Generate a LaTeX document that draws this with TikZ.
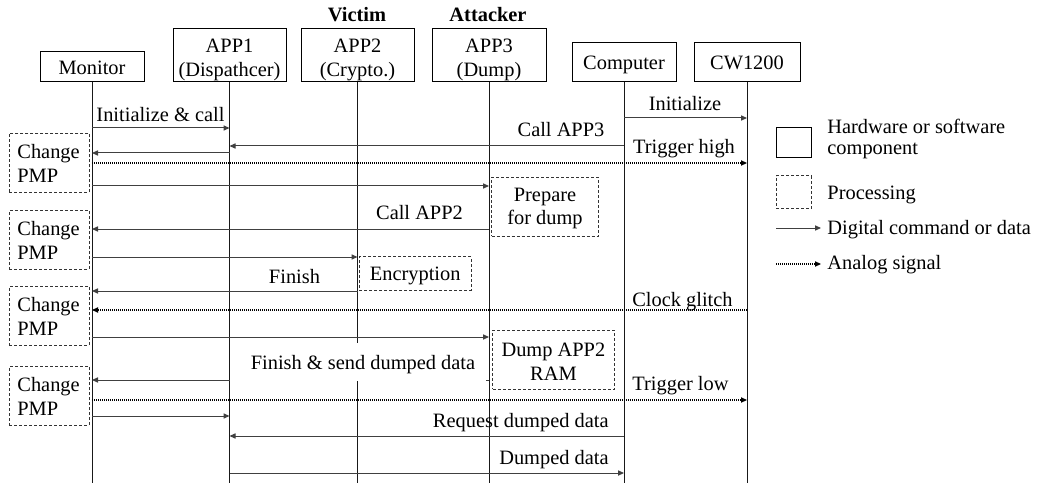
\documentclass[tikz,border=0pt]{standalone}
\usepackage{fontspec}
\setmainfont{Liberation Serif}
\usetikzlibrary{arrows.meta}
% stacked lines; the box baseline is the baseline of the last line
\newcommand{\stk}[2][c]{\begin{tabular}[b]{@{}#1@{}}#2\end{tabular}}
\begin{document}
\begin{tikzpicture}[x=0.5pt,y=-0.5pt,
  font=\fontsize{10.2}{12}\selectfont,
  comp/.style={draw=black, line width=0.5pt, inner sep=0pt},
  proc/.style={draw=black!80, line width=0.5pt, dash pattern=on 1.5pt off 1pt, inner sep=0pt},
  txt/.style={inner sep=0pt, anchor=base},
  life/.style={draw=black!90, line width=0.5pt},
  msg/.style={draw=black!75, line width=0.5pt, -{Triangle[length=3pt,width=2.6pt]}},
  sig/.style={msg, draw=black, line width=0.55pt, dash pattern=on 0.5pt off 0.5pt},
]
\useasboundingbox (0,0) rectangle (1037,486);

% ---- participants ----
\node[comp, minimum width=52pt, minimum height=15pt] (mon) at (92,67) {};
\node[txt] (mon-t) at (92,75) {Monitor};
\node[comp, minimum width=56.5pt, minimum height=26.5pt] (app1) at (229.5,55.5) {};
\node[txt] (app1-t) at (229.5,77) {\stk{APP1\\(Dispathcer)}};
\node[comp, minimum width=56.5pt, minimum height=26.5pt] (app2) at (357.5,55.5) {};
\node[txt] (app2-t) at (357.5,77) {\stk{APP2\\(Crypto.)}};
\node[comp, minimum width=57pt, minimum height=26.5pt] (app3) at (489,55.5) {};
\node[txt] (app3-t) at (489,77) {\stk{APP3\\(Dump)}};
\node[comp, minimum width=52pt, minimum height=19.5pt] (comp) at (624,62.5) {};
\node[txt] (comp-t) at (624,69.3) {Computer};
\node[comp, minimum width=53pt, minimum height=19.5pt] (cw) at (747,62.5) {};
\node[txt] (cw-t) at (747,69.3) {CW1200};

\node[txt, font=\fontsize{10.2}{12}\selectfont\bfseries] (victim) at (357,21.5) {Victim};
\node[txt, font=\fontsize{10.2}{12}\selectfont\bfseries] (attacker) at (488,21.5) {Attacker};

% ---- lifelines ----
\coordinate (bottom) at (0,483);
\foreach \n in {mon,app1,app2,app3,comp,cw}
  \draw[life] (\n.south) -- (\n.south |- bottom);

% ---- processing steps ----
\node[proc, minimum width=40pt, minimum height=29.5pt] (pmp1) at (49.3,162.8) {};
\node[txt, anchor=base west] (pmp1-t) at (17,182.7) {\stk[l]{Change\\PMP}};
\node[proc, minimum width=40pt, minimum height=29.15pt] (pmp2) at (49.3,239.9) {};
\node[txt, anchor=base west] (pmp2-t) at (17,259) {\stk[l]{Change\\PMP}};
\node[proc, minimum width=40pt, minimum height=29.15pt] (pmp3) at (49.3,315.9) {};
\node[txt, anchor=base west] (pmp3-t) at (17,335) {\stk[l]{Change\\PMP}};
\node[proc, minimum width=40pt, minimum height=29.15pt] (pmp4) at (49.3,395.9) {};
\node[txt, anchor=base west] (pmp4-t) at (17,415) {\stk[l]{Change\\PMP}};

\node[proc, minimum width=53.3pt, minimum height=29.35pt] (prep) at (545,206.7) {};
\node[txt] (prep-t) at (545,225) {\stk{Prepare\\for dump}};
\node[proc, minimum width=55.85pt, minimum height=16.65pt] (enc) at (415.2,273.4) {};
\node[txt] (enc-t) at (415.2,280.5) {Encryption};
\node[proc, minimum width=60.65pt, minimum height=29.65pt] (dump) at (553.4,359.7) {};
\node[txt] (dump-t) at (553.4,380) {\stk{Dump APP2\\RAM}};

% ---- messages ----
\draw[msg] (comp |- 0,118) -- (cw |- 0,118);
\node[txt] (l-init) at (685,111) {Initialize};
\draw[msg] (mon |- 0,128) -- (app1 |- 0,128);
\node[txt] (l-initcall) at (160.5,122) {Initialize \& call};
\draw[msg] (comp |- 0,146) -- (app1 |- 0,146);
\node[txt] (l-call3) at (561,137) {Call APP3};
\draw[msg] (app1 |- 0,153) -- (mon |- 0,153);
\draw[sig] (mon |- 0,163) -- (cw |- 0,163);
\node[txt] (l-trighi) at (684,154) {Trigger high};
\draw[msg] (mon |- 0,186) -- (app3 |- 0,186);
\draw[msg] (app3 |- 0,229) -- (mon |- 0,229);
\node[txt] (l-call2) at (419.5,220) {Call APP2};
\draw[msg] (mon |- 0,257) -- (app2 |- 0,257);
\draw[msg] (app2 |- 0,291) -- (mon |- 0,291);
\node[txt] (l-finish) at (294.5,283) {Finish};
\draw[sig] (cw |- 0,310) -- (mon |- 0,310);
\node[txt] (l-glitch) at (682.5,306) {Clock glitch};
\draw[msg] (mon |- 0,337) -- (app3 |- 0,337);
\draw[msg] (app3 |- 0,380) -- (mon |- 0,380);
\node[fill=white, inner sep=0pt, minimum width=128.25pt, minimum height=19pt] (l-send-bg) at (357.75,362) {};
\node[txt] (l-send) at (363,369) {Finish \& send dumped data};
\draw[sig] (mon |- 0,400) -- (cw |- 0,400);
\node[txt] (l-triglo) at (680.5,390) {Trigger low};
\draw[msg] (mon |- 0,416) -- (app1 |- 0,416);
\draw[msg] (comp |- 0,436) -- (app1 |- 0,436);
\node[txt, anchor=base east] (l-req) at (609,427) {Request dumped data};
\draw[msg] (app1 |- 0,473) -- (comp |- 0,473);
\node[txt, anchor=base east] (l-data) at (609,464) {Dumped data};

% ---- legend ----
\node[comp, minimum width=17.5pt, minimum height=15pt] (lg-hw) at (793.5,143) {};
\node[txt, anchor=base west, font=\fontsize{10.2}{10.5}\selectfont] (lg-hw-t) at (827,155) {\stk[l]{Hardware or software\\component}};
\node[proc, minimum width=17.5pt, minimum height=16.5pt] (lg-pr) at (793.5,192.5) {};
\node[txt, anchor=base west] (lg-pr-t) at (827,199) {Processing};
\coordinate (lg-d0) at (776,228);
\coordinate (lg-d1) at (821,228);
\draw[msg] (lg-d0) -- (lg-d1);
\node[txt, anchor=base west] (lg-d-t) at (827,234.5) {Digital command or data};
\coordinate (lg-a0) at (776,264);
\coordinate (lg-a1) at (821,264);
\draw[sig] (lg-a0) -- (lg-a1);
\node[txt, anchor=base west] (lg-a-t) at (827,269.3) {Analog signal};
\end{tikzpicture}
\end{document}
